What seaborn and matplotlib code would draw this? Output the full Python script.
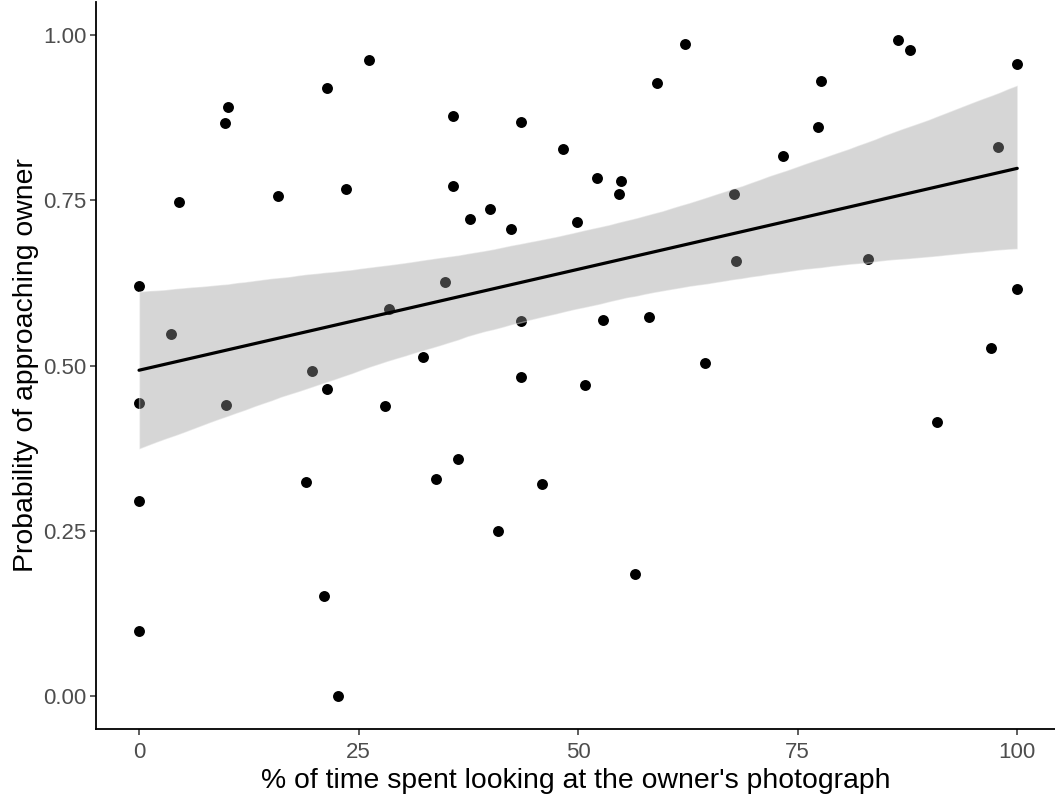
import numpy as np
import pandas as pd
import matplotlib
matplotlib.use('Agg')
import matplotlib.pyplot as plt
import seaborn as sns

# values
pct_looking = [0, 0, 0, 0, 3.6, 4.6, 9.8, 10.1, 9.9, 15.8, 19.0, 19.7, 21.4, 21.4,
               21.1, 22.6, 23.6, 26.2, 28.0, 28.5, 32.3, 33.8, 34.8, 35.8, 35.8, 36.3,
               37.7, 40.0, 40.9, 42.4, 43.5, 43.5, 43.5, 45.9, 48.3, 49.9, 50.8, 52.1,
               52.8, 54.7, 54.9, 56.5, 58.1, 59.0, 62.2, 64.4, 67.8, 68.0, 73.3, 77.3,
               77.6, 83.0, 86.4, 87.8, 90.9, 97.0, 97.8, 100, 100]
prob_approach = [0.620, 0.443, 0.295, 0.098, 0.547, 0.747, 0.867, 0.891, 0.440, 0.757,
                 0.324, 0.492, 0.920, 0.465, 0.151, 0.000, 0.767, 0.962, 0.438, 0.585,
                 0.513, 0.328, 0.627, 0.878, 0.771, 0.359, 0.722, 0.737, 0.250, 0.707,
                 0.869, 0.568, 0.483, 0.321, 0.828, 0.717, 0.471, 0.784, 0.569, 0.759,
                 0.779, 0.184, 0.573, 0.927, 0.987, 0.504, 0.760, 0.658, 0.817, 0.861,
                 0.930, 0.661, 0.992, 0.978, 0.415, 0.527, 0.831, 0.956, 0.616]
x_ticks = [0, 25, 50, 75, 100]
y_ticks = [0.00, 0.25, 0.50, 0.75, 1.00]

df = pd.DataFrame({'looking': pct_looking, 'prob': prob_approach})

sns.set_style("white")
plt.rcParams['font.family'] = ['Liberation Sans', 'DejaVu Sans']

fig = plt.figure(figsize=(10.55, 7.96), dpi=100)
ax = fig.add_axes([96 / 1055, 67 / 796, 959 / 1055, 727 / 796])

# points first, band goes over them (ggplot style)
ax.scatter(df['looking'], df['prob'], s=62, color='black', linewidths=0, zorder=2)
sns.regplot(data=df, x='looking', y='prob', ax=ax, scatter=False, ci=95,
            n_boot=5000, seed=7, color='#999999',
            line_kws={'linewidth': 2.3, 'zorder': 4})

for coll in ax.collections[1:]:
    coll.set_alpha(0.4)
    coll.set_zorder(3)
ax.lines[-1].set_color('black')

ax.set_xlim(-4.9, 104.3)
ax.set_ylim(-0.05, 1.05)
ax.set_xticks(x_ticks)
ax.set_xticklabels([str(t) for t in x_ticks])
ax.set_yticks(y_ticks)
ax.set_yticklabels([f'{t:.2f}' for t in y_ticks])

ax.tick_params(axis='both', labelsize=16, labelcolor='#4D4D4D', color='#333333',
               length=4, width=1.1, direction='out')
ax.tick_params(axis='x', pad=5)
ax.tick_params(axis='y', pad=3)
ax.xaxis.set_ticks_position('bottom')
ax.yaxis.set_ticks_position('left')

ax.set_xlabel("% of time spent looking at the owner's photograph", fontsize=20.4,
              color='black', labelpad=4)
ax.set_ylabel('Probability of approaching owner', fontsize=20.4, color='black',
              labelpad=3)

sns.despine(ax=ax)
ax.spines['left'].set_linewidth(1.3)
ax.spines['bottom'].set_linewidth(1.3)
ax.spines['left'].set_color('black')
ax.spines['bottom'].set_color('black')
ax.grid(False)

plt.savefig('out.png', dpi=100, facecolor='white')
plt.close()
